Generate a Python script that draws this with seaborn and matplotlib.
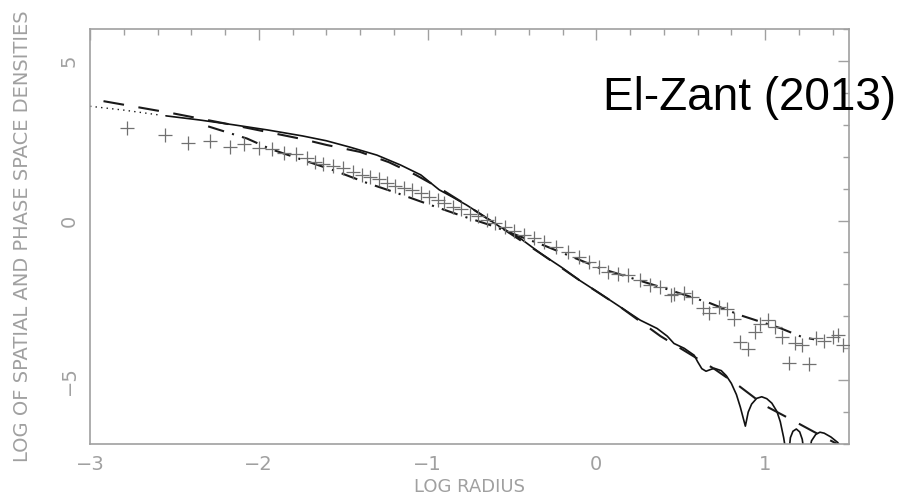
#!/usr/bin/env python3
"""Spatial and phase-space density profiles vs log radius (El-Zant 2013 style)."""

import matplotlib

matplotlib.use("Agg")
import matplotlib.pyplot as plt
import seaborn as sns
from matplotlib.ticker import MultipleLocator

# spatial density of the simulation (solid)
rho_x = [-2.55, -2.35, -2.15, -1.95, -1.74, -1.6, -1.46, -1.3, -1.16, -1.04, -0.93,
         -0.85, -0.77, -0.67, -0.57, -0.45, -0.33, -0.21, -0.10, 0.02, 0.14, 0.26,
         0.36, 0.42, 0.46, 0.52, 0.58, 0.60, 0.625, 0.65, 0.68, 0.70, 0.74, 0.77,
         0.80, 0.83, 0.853, 0.883, 0.90, 0.92, 0.95, 0.98, 1.01, 1.04, 1.07, 1.09,
         1.11, 1.125, 1.14, 1.15, 1.165, 1.185, 1.205, 1.22, 1.232, 1.26, 1.275,
         1.30, 1.325, 1.35, 1.39, 1.43, 1.45]
rho_y = [3.28, 3.15, 3.0, 2.84, 2.65, 2.5, 2.30, 2.05, 1.74, 1.43, 0.96,
         0.73, 0.49, 0.15, -0.20, -0.56, -1.03, -1.45, -1.87, -2.28, -2.70, -3.12,
         -3.38, -3.62, -3.85, -4.0, -4.22, -4.42, -4.64, -4.72, -4.66, -4.63, -4.70, -4.86,
         -5.10, -5.45, -5.84, -6.44, -6.0, -5.75, -5.57, -5.52, -5.58, -5.72, -5.98, -6.3,
         -6.8, -7.3, -7.3, -6.8, -6.6, -6.53, -6.62, -6.85, -7.3, -7.3, -6.9,
         -6.7, -6.63, -6.66, -6.78, -6.95, -7.1]

# inner part of the spatial profile (dotted)
inner_x = [-3.0, -2.8, -2.58]
inner_y = [3.58, 3.46, 3.30]

# model fit to spatial density (dashed)
fit_rho_x = [-2.92, -2.5, -2.15, -1.74, -1.6, -1.40, -1.23, -1.07, -0.93, -0.77,
             -0.57, -0.33, -0.10, 0.14, 0.38, 0.70, 0.85, 1.0, 1.15, 1.29, 1.5]
fit_rho_y = [3.74, 3.35, 2.99, 2.55, 2.37, 2.15, 1.83, 1.43, 1.02, 0.49,
             -0.20, -1.03, -1.87, -2.70, -3.62, -4.65, -5.2, -5.8, -6.22, -6.62, -7.2]

# phase-space density fit (dash-dot)
fit_q_x = [-2.30, -2.07, -1.93, -1.74, -1.56, -1.36, -1.18, -1.0, -0.81, -0.63,
           -0.3, 0.02, 0.42, 0.675, 0.85, 1.09, 1.22, 1.29]
fit_q_y = [2.95, 2.57, 2.24, 1.90, 1.58, 1.18, 0.86, 0.52, 0.17, -0.14,
           -0.80, -1.49, -2.15, -2.59, -2.96, -3.37, -3.65, -3.72]

# phase-space density of the simulation (pluses)
q_x = [-2.78, -2.555, -2.42, -2.29, -2.17, -2.09, -2.00, -1.92, -1.85, -1.78, -1.715,
       -1.667, -1.617, -1.56, -1.50, -1.44, -1.39, -1.34, -1.29, -1.24, -1.19, -1.14,
       -1.09, -1.04, -0.99, -0.94, -0.90, -0.85, -0.80, -0.75, -0.70, -0.65, -0.60,
       -0.54, -0.49, -0.43, -0.37, -0.31, -0.24, -0.17, -0.105, -0.046, 0.013, 0.072,
       0.13, 0.19, 0.26, 0.32, 0.38, 0.44, 0.458, 0.517, 0.567, 0.635, 0.665, 0.724,
       0.774, 0.817, 0.853, 0.896, 0.938, 0.97, 1.02, 1.06, 1.10, 1.14, 1.18, 1.22,
       1.26, 1.30, 1.35, 1.40, 1.43, 1.46]
q_y = [2.89, 2.68, 2.44, 2.50, 2.31, 2.40, 2.26, 2.23, 2.13, 2.08, 1.95,
       1.84, 1.77, 1.71, 1.64, 1.53, 1.43, 1.35, 1.29, 1.17, 1.08, 1.03,
       0.96, 0.85, 0.75, 0.64, 0.54, 0.43, 0.35, 0.22, 0.14, 0.02, -0.09,
       -0.19, -0.32, -0.45, -0.56, -0.66, -0.82, -0.98, -1.13, -1.29, -1.45, -1.60,
       -1.66, -1.71, -1.87, -2.02, -2.08, -2.34, -2.30, -2.28, -2.41, -2.75, -2.89, -2.72,
       -2.78, -3.07, -3.80, -4.01, -3.49, -3.24, -3.12, -3.35, -3.66, -4.46, -3.83, -3.90,
       -4.50, -3.69, -3.77, -3.64, -3.59, -3.90]

GRAY = "#a0a0a0"


def main() -> None:
    sns.set_theme(style="white")
    plt.rcParams["font.family"] = ["DejaVu Sans"]

    fig = plt.figure(figsize=(9.1, 4.96), dpi=100)
    ax = fig.add_axes([0.0989, 0.1048, 0.8346, 0.8367])

    sns.lineplot(x=inner_x, y=inner_y, ax=ax, color="k", lw=1.0,
                 linestyle=(0, (1, 3)), sort=False, estimator=None)
    sns.lineplot(x=rho_x, y=rho_y, ax=ax, color="#111", lw=1.2,
                 sort=False, estimator=None)
    sns.lineplot(x=fit_rho_x, y=fit_rho_y, ax=ax, color="k", lw=1.5,
                 linestyle=(0, (10, 7)), sort=False, estimator=None)
    sns.lineplot(x=fit_q_x, y=fit_q_y, ax=ax, color="k", lw=1.5,
                 linestyle=(0, (8, 4, 1, 4)), sort=False, estimator=None)
    sns.scatterplot(x=q_x, y=q_y, ax=ax, marker="+", s=110, color="#707070",
                    linewidth=0.9, zorder=3)

    ax.set_xlim(-3, 1.5)
    ax.set_ylim(-7, 6)
    ax.xaxis.set_major_locator(MultipleLocator(1))
    ax.xaxis.set_minor_locator(MultipleLocator(0.2))
    ax.yaxis.set_major_locator(MultipleLocator(5))
    ax.yaxis.set_minor_locator(MultipleLocator(1))
    ax.tick_params(which="both", direction="in", top=True, right=True,
                   color=GRAY, labelcolor=GRAY, labelsize=14, width=1)
    ax.tick_params(which="major", length=8, pad=8)
    ax.tick_params(which="minor", length=4)
    for lab in ax.get_yticklabels():
        lab.set_rotation(90)
        lab.set_va("center")
    for sp in ax.spines.values():
        sp.set_color(GRAY)
        sp.set_linewidth(1.2)

    ax.set_xlabel("LOG RADIUS", color=GRAY, fontsize=13, labelpad=3)
    ax.set_ylabel("LOG OF SPATIAL AND PHASE SPACE DENSITIES", color=GRAY,
                  fontsize=14, labelpad=20)

    fig.text(603 / 910, 1 - 110 / 496, "El-Zant (2013)", fontsize=33,
             family="Liberation Sans", color="black", ha="left", va="baseline")

    fig.savefig("out.png", dpi=100)
    plt.close(fig)


if __name__ == "__main__":
    main()
